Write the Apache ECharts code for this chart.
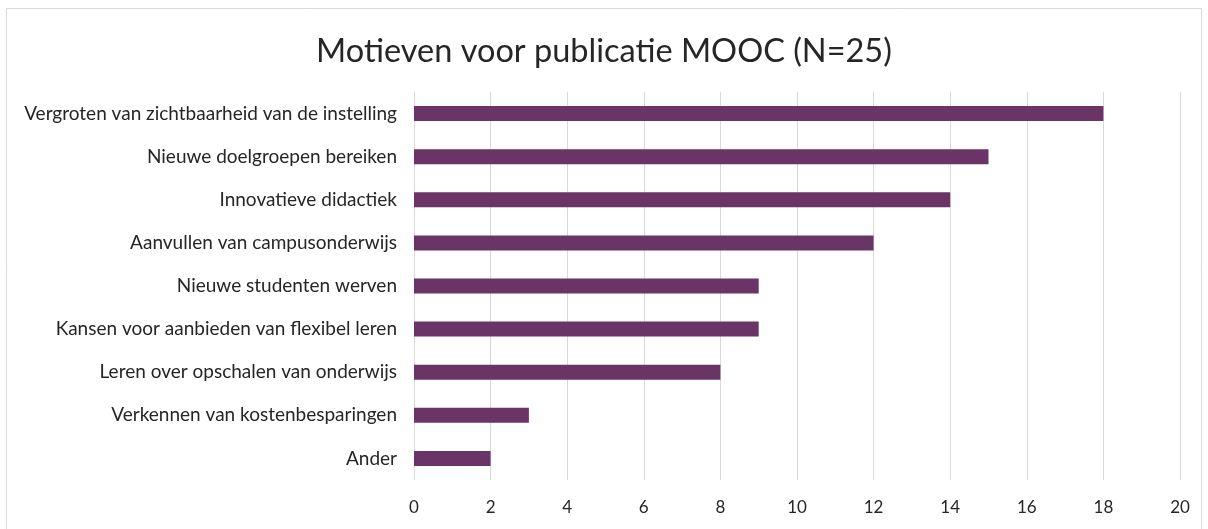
<!DOCTYPE html>
<html>
<head>
<meta charset="utf-8">
<script src="https://cdn.jsdelivr.net/npm/echarts@6/dist/echarts.min.js"></script>
<style>
  html, body { margin: 0; padding: 0; background: #fff; }
  #chart { width: 1208px; height: 529px; }
</style>
</head>
<body>
<div id="chart"></div>
<script>
// categories listed top to bottom, as in the picture
var categories = [
  'Vergroten van zichtbaarheid van de instelling',
  'Nieuwe doelgroepen bereiken',
  'Innovatieve didactiek',
  'Aanvullen van campusonderwijs',
  'Nieuwe studenten werven',
  'Kansen voor aanbieden van flexibel leren',
  'Leren over opschalen van onderwijs',
  'Verkennen van kostenbesparingen',
  'Ander'
];
var counts = [18, 15, 14, 12, 9, 9, 8, 3, 2];

var fontFamily = 'Lato, Open Sans, sans-serif';
var chart = echarts.init(document.getElementById('chart'));

chart.setOption({
  animation: false,
  title: {
    text: 'Motieven voor publicatie MOOC (N=25)',
    left: 'center',
    top: 30,
    textStyle: { fontFamily: fontFamily, fontSize: 32.5, fontWeight: 'normal', color: '#262626' }
  },
  graphic: [{
    type: 'rect',
    shape: { x: 6.5, y: 8.5, width: 1195, height: 540 },
    style: { fill: 'none', stroke: '#d9d9d9', lineWidth: 1 },
    silent: true
  }],
  grid: { left: 414, right: 28, top: 92, bottom: 49 },
  xAxis: {
    type: 'value',
    min: 0,
    max: 20,
    interval: 2,
    axisLine: { show: false },
    axisTick: { show: false },
    axisLabel: { fontFamily: fontFamily, fontSize: 17, color: '#262626', margin: 19 },
    splitLine: { lineStyle: { color: '#d9d9d9', width: 1 } }
  },
  yAxis: {
    type: 'category',
    data: categories,
    inverse: true,
    axisLine: { show: false },
    axisTick: { show: false },
    axisLabel: { fontFamily: fontFamily, fontSize: 19, color: '#262626', margin: 17 }
  },
  series: [{
    type: 'bar',
    data: counts,
    barWidth: 15,
    itemStyle: { color: '#6a3466' }
  }]
});
</script>
</body>
</html>
